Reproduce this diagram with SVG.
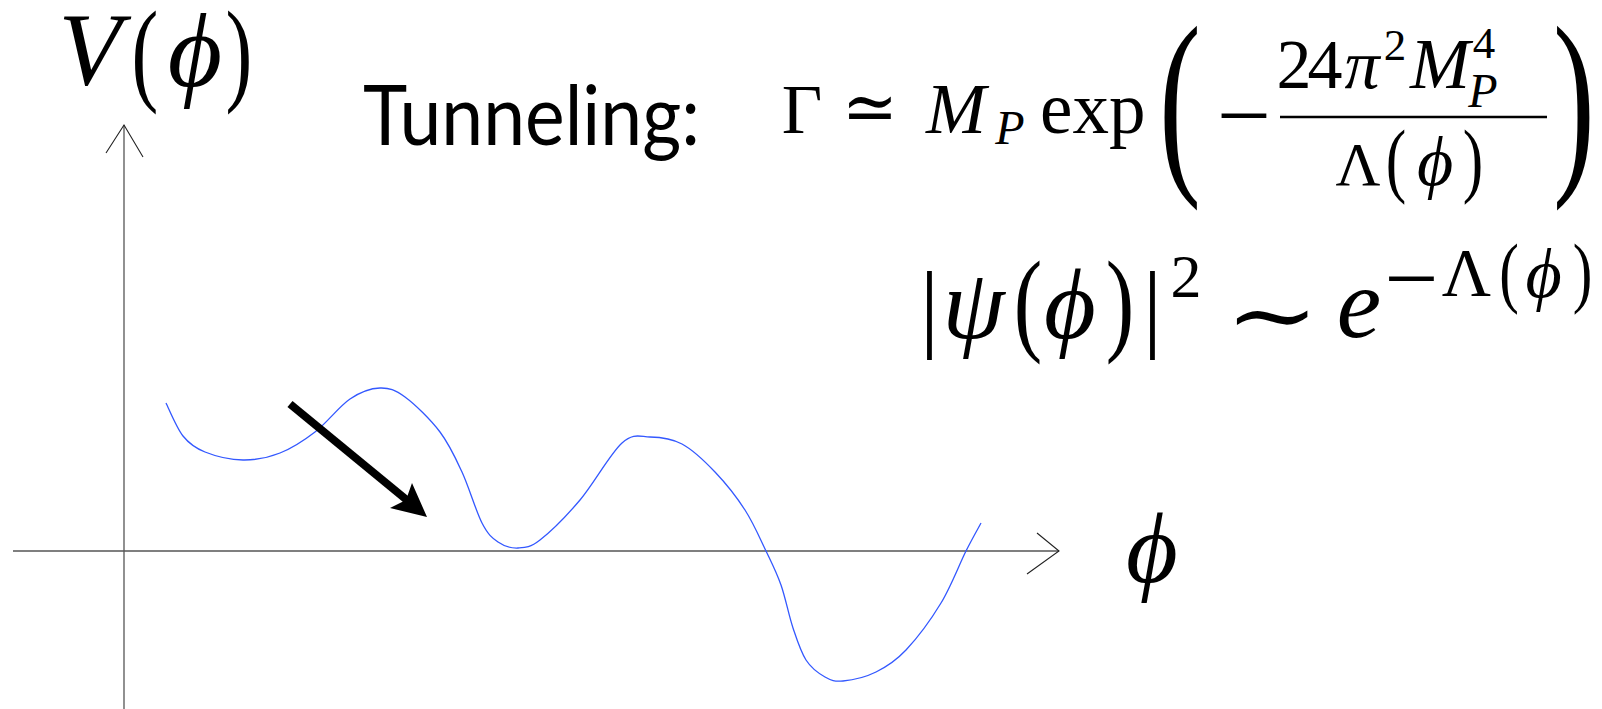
<svg xmlns="http://www.w3.org/2000/svg" width="1602" height="709" viewBox="0 0 1602 709">
<style>
.m{font-family:'Liberation Serif','DejaVu Serif',serif;fill:#000;text-anchor:middle}
.i{font-style:italic}
.mn{font-family:'DejaVu Sans',sans-serif;fill:#000;text-anchor:middle}
.axis{stroke:#555;stroke-width:1.3;fill:none}
.barb{stroke:#222;stroke-width:1.1;fill:none}
.curve{stroke:#3358ff;stroke-width:1.3;fill:none}
</style>
<rect width="1602" height="709" fill="#fff"/>
<g id="axes">
<line class="axis" x1="124" y1="125" x2="124" y2="709"/>
<polyline class="barb" points="106,153 124,125 143,157"/>
<line class="axis" x1="13" y1="551" x2="1059" y2="551"/>
<polyline class="barb" points="1037,533 1059,551 1027,574"/>
</g>
<g id="potential">
<path class="curve" d="M166,403 C168.8,408.5 176.5,427.8 183,436 C189.5,444.2 195,448 205,452 C215,456 230.5,459.8 243,460 C255.5,460.2 268,457.7 280,453 C292,448.3 303.3,441 315,432 C326.7,423 339.2,406.3 350,399 C360.8,391.7 370.8,388.3 380,388 C389.2,387.7 395,389.7 405,397 C415,404.3 430.5,419.5 440,432 C449.5,444.5 455,456.8 462,472 C469,487.2 476,511.3 482,523 C488,534.7 492,537.8 498,542 C504,546.2 511,548.3 518,548 C525,547.7 529.7,548 540,540 C550.3,532 566.3,516.2 580,500 C593.7,483.8 610.3,453.5 622,443 C633.7,432.5 640,436.8 650,437 C660,437.2 671.2,438.2 682,444 C692.8,449.8 704.5,461 715,472 C725.5,483 736.5,496.8 745,510 C753.5,523.2 760,538.5 766,551 C772,563.5 776.5,572.2 781,585 C785.5,597.8 788.8,615.5 793,628 C797.2,640.5 800.7,651.8 806,660 C811.3,668.2 818.8,673.5 825,677 C831.2,680.5 834.5,681.8 843,681 C851.5,680.2 865.5,677.2 876,672 C886.5,666.8 895.2,661.5 906,650 C916.8,638.5 931,619.5 941,603 C951,586.5 959.3,564.3 966,551 C972.7,537.7 978.5,527.7 981,523"/>
</g>
<g id="tunnel-arrow">
<line x1="290" y1="404" x2="408" y2="501" stroke="#000" stroke-width="8"/>
<polygon points="427,517 390,508 406,500 412,483" fill="#000"/>
</g>
<g id="label-V">
<text class="m i" x="90" y="84" font-size="103">V</text>
<text class="m" transform="translate(145,0) scale(0.7,1)" x="0" y="90" font-size="115">(</text>
<text class="m i" x="195" y="86" font-size="105">ϕ</text>
<text class="m" transform="translate(239,0) scale(0.7,1)" x="0" y="90" font-size="115">)</text>
</g>
<g id="label-phi">
<text class="m i" x="1152" y="582" font-size="100">ϕ</text>
</g>
<g id="title">
<text x="363" y="145" font-family="Lato,'Noto Sans',sans-serif" font-size="83" textLength="337" lengthAdjust="spacingAndGlyphs" fill="#000">Tunneling:</text>
</g>
<g id="formula-rate">
<text class="m" x="802" y="133" font-size="70">Γ</text>
<text class="m" transform="translate(870,0) scale(1.15,1.25)" x="0" y="106" font-size="58">≃</text>
<text class="m i" x="956" y="133" font-size="72">M</text>
<text class="m i" x="1010" y="144" font-size="48">P</text>
<text class="m" x="1040" y="133" font-size="73" style="text-anchor:start">exp</text>
<text class="m" transform="translate(1180,0) scale(0.62,1)" x="0" y="167" font-size="203">(</text>
<text class="mn" transform="translate(1244,0) scale(1.3,1)" x="0" y="133" font-size="55">−</text>
<line x1="1280" y1="117" x2="1547" y2="117" stroke="#000" stroke-width="2.6"/>
<text class="m" x="1294" y="88" font-size="70">2</text>
<text class="m" x="1325" y="88" font-size="70">4</text>
<text class="m i" x="1362" y="88" font-size="70">π</text>
<text class="m" x="1395" y="60" font-size="45">2</text>
<text class="m i" x="1440" y="88" font-size="72">M</text>
<text class="m" x="1484" y="58" font-size="45">4</text>
<text class="m i" x="1483" y="107" font-size="48">P</text>
<text class="m" x="1358" y="185" font-size="62">Λ</text>
<text class="m" transform="translate(1396,0) scale(0.75,1)" x="0" y="187" font-size="82">(</text>
<text class="m i" x="1435" y="185" font-size="70">ϕ</text>
<text class="m" transform="translate(1473,0) scale(0.75,1)" x="0" y="187" font-size="82">)</text>
<text class="m" transform="translate(1574,0) scale(0.62,1)" x="0" y="167" font-size="203">)</text>
</g>
<g id="formula-wave">
<text class="m" x="929.5" y="339" font-size="97">|</text>
<text class="m i" x="973.5" y="338" font-size="100">ψ</text>
<text class="m" transform="translate(1028,0) scale(0.75,1)" x="0" y="340" font-size="114">(</text>
<text class="m i" x="1070" y="338" font-size="100">ϕ</text>
<text class="m" transform="translate(1120,0) scale(0.75,1)" x="0" y="340" font-size="114">)</text>
<text class="m" x="1152.5" y="339" font-size="97">|</text>
<text class="m" x="1186" y="297" font-size="62">2</text>
<text class="m" transform="translate(1272,0) scale(1.25,1)" x="0" y="346" font-size="90">∼</text>
<text class="m i" x="1359" y="337" font-size="100">e</text>
<text class="mn" transform="translate(1411.5,0) scale(1.3,1)" x="0" y="296" font-size="55">−</text>
<text class="m" x="1466.5" y="295" font-size="68">Λ</text>
<text class="m" transform="translate(1509,0) scale(0.75,1)" x="0" y="298" font-size="78.5">(</text>
<text class="m i" x="1543.5" y="297" font-size="70">ϕ</text>
<text class="m" transform="translate(1582.5,0) scale(0.75,1)" x="0" y="298" font-size="78.5">)</text>
</g>
</svg>
